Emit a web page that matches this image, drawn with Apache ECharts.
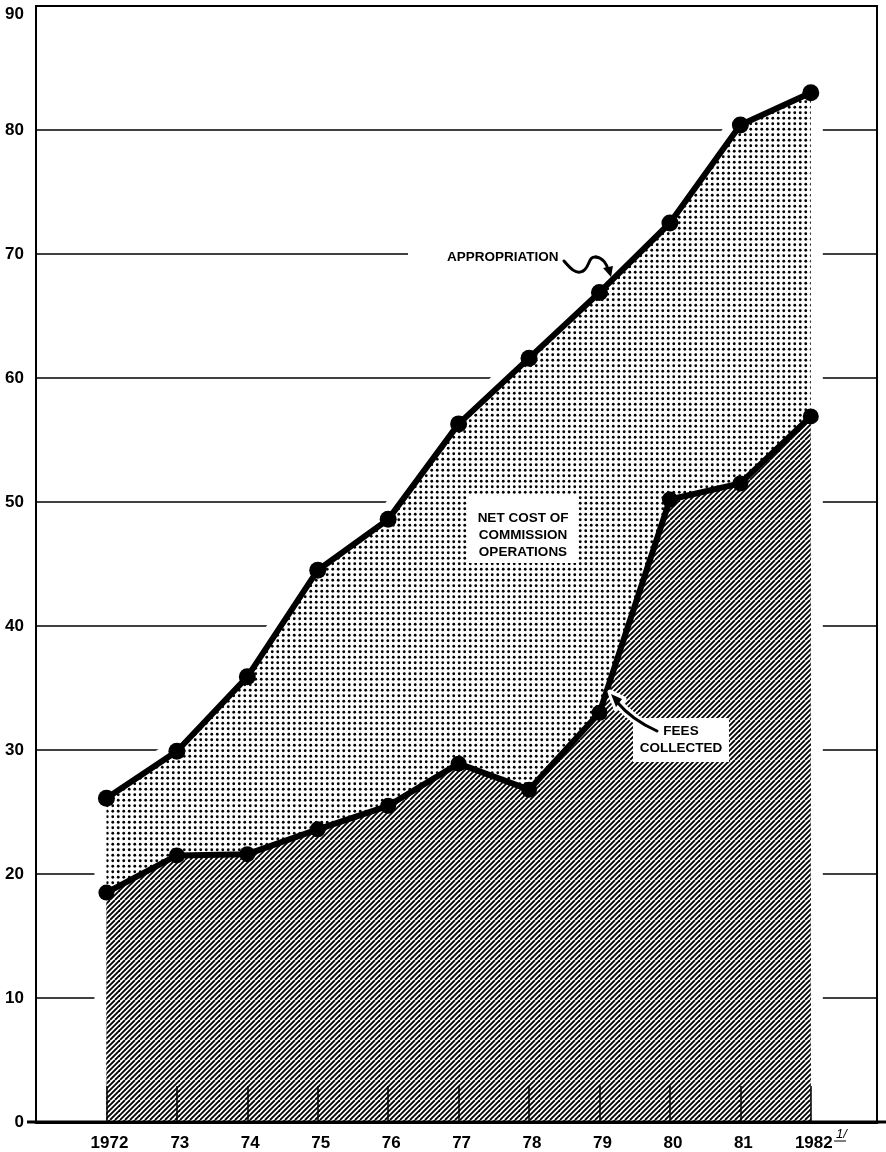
<!DOCTYPE html>
<html>
<head>
<meta charset="utf-8">
<title>Appropriation and fees collected</title>
<script src="https://cdn.jsdelivr.net/npm/echarts@6.0.0/dist/echarts.min.js"></script>
<style>
html,body{margin:0;padding:0;background:#fff;}
#main{width:886px;height:1152px;}
</style>
</head>
<body>
<div id="main"></div>
<script>
// data (millions)
var years = [1972, 1973, 1974, 1975, 1976, 1977, 1978, 1979, 1980, 1981, 1982];
var yearLabels = ['1972', '73', '74', '75', '76', '77', '78', '79', '80', '81', '1982'];
var appropriation = [26.1, 29.9, 35.9, 44.5, 48.6, 56.3, 61.6, 66.9, 72.5, 80.4, 83.0];
var feesCollected = [18.5, 21.5, 21.6, 23.6, 25.5, 28.9, 26.8, 33.0, 50.2, 51.5, 56.9];

function pairs(vals){
    var out = [];
    for(var i=0;i<years.length;i++){
        out.push([years[i], vals[i]]);
    }
    return out;
}

// dotted screen for net cost
function dotPattern(){
    var c = document.createElement('canvas');
    c.width = 11; c.height = 11;
    var ctx = c.getContext('2d');
    ctx.fillStyle = '#fff';
    ctx.fillRect(0,0,11,11);
    ctx.fillStyle = '#000';
    var pts = [[2.75,2.75],[8.25,2.75],[2.75,8.25],[8.25,8.25]];
    for(var i=0;i<pts.length;i++){
        ctx.beginPath();
        ctx.arc(pts[i][0], pts[i][1], 1.4, 0, Math.PI*2);
        ctx.fill();
    }
    return c;
}

// diagonal hatch for fees
function hatchPattern(){
    var c = document.createElement('canvas');
    c.width = 20; c.height = 20;
    var ctx = c.getContext('2d');
    ctx.fillStyle = '#fff';
    ctx.fillRect(0,0,20,20);
    ctx.strokeStyle = '#000';
    ctx.lineWidth = 1.8;
    for(var x=-20;x<=20;x+=5){
        ctx.beginPath();
        ctx.moveTo(x, 20);
        ctx.lineTo(x+20, 0);
        ctx.stroke();
    }
    return c;
}

function curve(x1,y1,c1x,c1y,c2x,c2y,x2,y2,color,w){
    return {type: 'bezierCurve', z: 101,
        shape: {x1: x1, y1: y1, cpx1: c1x, cpy1: c1y, cpx2: c2x, cpy2: c2y, x2: x2, y2: y2},
        style: {fill: null, stroke: color, lineWidth: w, lineCap: 'round'}};
}

function note(txt, x, y){
    return {type: 'text', z: 101, x: x, y: y,
        style: {text: txt, fill: '#000', font: 'bold 13.5px ' + font,
            textAlign: 'center', textVerticalAlign: 'middle'}};
}

var appData = pairs(appropriation);
var feeData = pairs(feesCollected);
var haloData = [[years[0], 0]].concat(appData).concat([[years[years.length-1], 0]]);

var font = 'Liberation Sans, Arial, Helvetica, sans-serif';
var myChart = echarts.init(document.getElementById('main'));
var option = {
    animation: false,
    backgroundColor: '#fff',
    grid: {
        left: 36, top: 6, right: 9, bottom: 30,
        outerBoundsMode: 'none',
        show: true, borderColor: '#000', borderWidth: 2
    },
    xAxis: {
        type: 'value',
        min: 1971, max: 1982.94, interval: 1,
        z: 10,
        splitLine: {show: false},
        axisLine: {show: true, lineStyle: {color: '#000', width: 3}},
        axisTick: {show: true, inside: true, length: 36, customValues: years,
            lineStyle: {color: '#000', width: 1.5}},
        axisLabel: {
            customValues: years,
            margin: 13,
            padding: [0, 0, 0, 6],
            color: '#000', fontFamily: font, fontWeight: 'bold', fontSize: 17,
            formatter: function(v){
                var i = years.indexOf(v);
                return i < 0 ? '' : yearLabels[i];
            }
        }
    },
    yAxis: {
        type: 'value',
        min: 0, max: 90, interval: 10,
        axisLine: {show: true, lineStyle: {color: '#000', width: 2}},
        axisTick: {show: false},
        splitLine: {show: true, lineStyle: {color: '#000', width: 1.5}},
        axisLabel: {
            margin: 12,
            color: '#000', fontFamily: font, fontWeight: 'bold', fontSize: 17,
            formatter: function(v){
                // top label sits a little below the frame
                return v === 90 ? '{top|90}' : String(v);
            },
            rich: {
                top: {fontFamily: font, fontWeight: 'bold', fontSize: 17, color: '#000', padding: [16, 0, 0, 0]}
            }
        }
    },
    series: [{
        // white gap between gridlines and the shaded band
        type: 'line', data: haloData, z: 1, silent: true,
        symbol: 'none',
        lineStyle: {color: '#fff', width: 24, join: 'round', cap: 'butt'}
    },{
        type: 'line', data: appData, z: 2, silent: true,
        symbol: 'none',
        lineStyle: {width: 0},
        areaStyle: {color: {image: dotPattern(), repeat: 'repeat'}, opacity: 1, origin: 'start'}
    },{
        type: 'line', data: feeData, z: 3, silent: true,
        symbol: 'none',
        lineStyle: {width: 0},
        areaStyle: {color: {image: hatchPattern(), repeat: 'repeat'}, opacity: 1, origin: 'start'}
    },{
        name: 'Appropriation',
        type: 'line', data: appData, z: 5,
        symbol: 'circle', symbolSize: 17,
        itemStyle: {color: '#000'},
        lineStyle: {color: '#000', width: 6, join: 'round'}
    },{
        name: 'Fees collected',
        type: 'line', data: feeData, z: 5,
        symbol: 'circle', symbolSize: 16,
        itemStyle: {color: '#000'},
        lineStyle: {color: '#000', width: 6, join: 'round'}
    }],
    graphic: [
        // long baseline
        {type: 'line', z: 100, shape: {x1: 27, y1: 1122, x2: 886, y2: 1122},
            style: {stroke: '#000', lineWidth: 3}},
        // APPROPRIATION label, gridline knocked out behind it
        {type: 'rect', z: 100, shape: {x: 408, y: 248, width: 214, height: 12}, style: {fill: '#fff'}},
        {type: 'text', z: 101, x: 447, y: 257,
            style: {text: 'APPROPRIATION', fill: '#000', font: 'bold 13.5px ' + font,
                textAlign: 'left', textVerticalAlign: 'middle'}},
        curve(564,261, 570,268, 576,275, 583,271, '#000', 3),
        curve(583,271, 590,267, 588,256, 596,257, '#000', 3),
        curve(596,257, 603,258, 607,264, 608,270, '#000', 3),
        {type: 'polygon', z: 101, shape: {points: [[603,268],[613,266],[611,277]]}, style: {fill: '#000'}},
        // NET COST box
        {type: 'rect', z: 100, shape: {x: 468, y: 495, width: 110, height: 68}, style: {fill: '#fff'}},
        note('NET COST OF', 523, 518),
        note('COMMISSION', 523, 535),
        note('OPERATIONS', 523, 552),
        // FEES COLLECTED box and arrow
        {type: 'rect', z: 100, shape: {x: 633, y: 718, width: 96, height: 44}, style: {fill: '#fff'}},
        {type: 'bezierCurve', z: 100, shape: {x1: 657, y1: 731, cpx1: 632, cpy1: 720, x2: 617, y2: 702},
            style: {fill: null, stroke: '#fff', lineWidth: 9, lineCap: 'round'}},
        {type: 'polygon', z: 100, shape: {points: [[610,692],[624,699],[616,709]]},
            style: {fill: '#fff', stroke: '#fff', lineWidth: 5, lineJoin: 'round'}},
        {type: 'bezierCurve', z: 101, shape: {x1: 657, y1: 731, cpx1: 632, cpy1: 720, x2: 617, y2: 702},
            style: {fill: null, stroke: '#000', lineWidth: 3, lineCap: 'round'}},
        {type: 'polygon', z: 101, shape: {points: [[611,694],[622,699],[616,707]]}, style: {fill: '#000'}},
        note('FEES', 681, 731),
        note('COLLECTED', 681, 748),
        // footnote mark after 1982
        {type: 'text', z: 101, x: 836, y: 1134,
            style: {text: '1/', fill: '#000', font: 'italic 13px ' + font, textAlign: 'left', textVerticalAlign: 'middle'}},
        {type: 'line', z: 101, shape: {x1: 834, y1: 1141, x2: 846, y2: 1141},
            style: {stroke: '#000', lineWidth: 1}}
    ]
};
myChart.setOption(option);
</script>
</body>
</html>
